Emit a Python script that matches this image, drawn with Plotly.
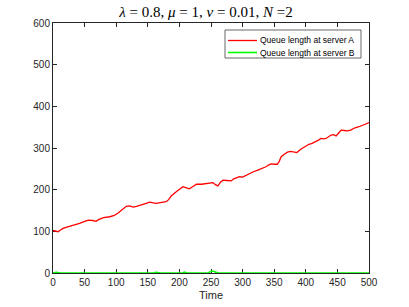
import plotly.graph_objects as go

time_a = [0, 4, 8, 12, 16, 22, 30, 36, 42, 50, 56, 63, 68, 72, 80, 90, 97, 103, 110, 116, 121, 127, 132, 137, 145, 153, 158, 163, 170, 179, 183, 187, 195, 201, 205.5, 210, 216, 222, 227, 235, 245, 253, 257, 261, 265, 269, 275, 282, 286, 290, 295, 300, 305, 311, 317, 324, 330, 337, 341, 345, 350, 355, 358, 361, 366, 371, 376, 382, 386, 392, 398, 405, 410, 416, 420, 424, 428, 432, 436, 440, 444, 448, 452, 456, 461, 466, 471, 477, 484, 489, 494, 500]
queue_a = [102, 101, 99, 103, 107, 110, 113, 116, 119, 124, 127, 126, 124, 128, 133, 135, 138, 144, 152, 160, 161, 158, 160, 163, 166, 170, 168, 167, 169, 171, 176, 185, 195, 203, 207, 205, 202, 208, 213, 213, 215, 217, 212, 209, 218, 223, 222, 221, 226, 229, 231, 230, 234, 239, 243, 247, 250, 255, 259, 262, 261, 261, 268, 279, 285, 290, 292, 291, 289, 297, 303, 309, 311, 315, 319, 323, 322, 323, 327, 331, 332, 329, 336, 343, 342, 341, 343, 348, 351, 355, 357, 361]

time_b = [0, 3, 5, 8, 12, 160, 163, 166, 170, 205, 208, 212, 246, 250, 254, 258, 262, 500]
queue_b = [0, 2, 2, 1, 0, 0, 2, 1, 0, 0, 2, 0, 0, 4, 4, 2, 0, 0]

series_names = ["Queue length at server A", "Queue length at server B"]
series_colors = ["#ff0000", "#00ff00"]

W, H = 409, 307
L, R, T, B = 53, 40, 23, 34

fig = go.Figure()
fig.add_trace(go.Scatter(x=time_a, y=queue_a, mode="lines", name=series_names[0],
                         line=dict(color=series_colors[0], width=1.3), showlegend=False))
fig.add_trace(go.Scatter(x=time_b, y=queue_b, mode="lines", name=series_names[1],
                         line=dict(color=series_colors[1], width=1.5), showlegend=False))

axis_common = dict(showline=True, linecolor="#262626", linewidth=1, mirror="ticks",
                   ticks="inside", ticklen=4, tickcolor="#262626", showgrid=False,
                   zeroline=False, automargin=False, layer="below traces",
                   tickfont=dict(family="Liberation Sans, Arial", size=10, color="#262626"))

# legend box in pixel coordinates converted to paper coordinates
pw, ph = W - L - R, H - T - B
def px(x):
    return (x - L) / pw
def py(y):
    return (H - B - y) / ph

shapes = [dict(type="rect", xref="paper", yref="paper", x0=px(225), x1=px(361), y0=py(58), y1=py(30),
               line=dict(color="#262626", width=0.7), fillcolor="white", layer="above")]
annotations = []
for i, (name, col) in enumerate(zip(series_names, series_colors)):
    yy = 40.5 + i * 12
    shapes.append(dict(type="line", xref="paper", yref="paper", x0=px(228), x1=px(257),
                       y0=py(yy), y1=py(yy), line=dict(color=col, width=1.3 if i == 0 else 1.6), layer="above"))
    annotations.append(dict(text=name, xref="paper", yref="paper", x=px(258), y=py(yy),
                            xanchor="left", yanchor="middle", showarrow=False,
                            font=dict(family="Liberation Sans, Arial", size=8.5, color="black")))

fig.update_layout(
    width=W, height=H,
    margin=dict(l=L, r=R, t=T, b=B, autoexpand=False),
    paper_bgcolor="white", plot_bgcolor="white",
    title=dict(text="<i>λ</i> = 0.8, <i>μ</i> = 1, <i>ν</i> = 0.01, <i>N</i> =2",
               x=206 / W, xanchor="center", y=1 - 11.7 / H, yanchor="middle",
               font=dict(family="Liberation Serif, DejaVu Serif, serif", size=15, color="black")),
    xaxis=dict(range=[0, 500], tickvals=list(range(0, 501, 50)),
               title=dict(text="Time", font=dict(family="Liberation Sans, Arial", size=11, color="#262626"), standoff=4),
               **axis_common),
    yaxis=dict(range=[0, 600], tickvals=list(range(0, 601, 100)), **axis_common),
    shapes=shapes,
    annotations=annotations,
    showlegend=False,
)

fig.write_html("out.html", config={"displayModeBar": False},
               post_script="document.body.style.margin='0';")
